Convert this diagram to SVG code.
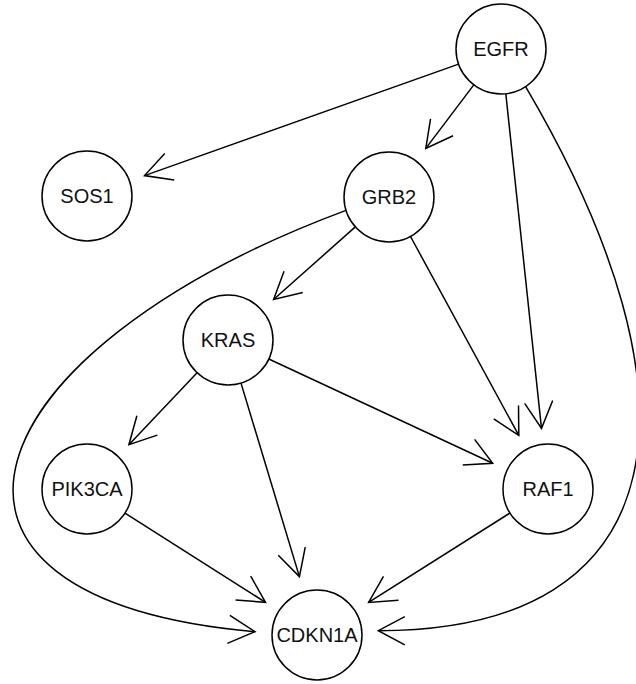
<svg xmlns="http://www.w3.org/2000/svg" width="636" height="684" viewBox="0 0 636 684">
<style>
.node circle{fill:#fff;stroke:#000;stroke-width:1.5}
.node text{font-family:"Liberation Sans",Arial,sans-serif;font-size:20px;fill:#111;text-anchor:middle}
.edge{fill:none;stroke:#000;stroke-width:1.5;marker-end:url(#arr)}
</style>
<defs>
<marker id="arr" markerUnits="userSpaceOnUse" markerWidth="40" markerHeight="40" refX="0" refY="0" orient="auto" overflow="visible">
<path d="M-26.5,-14.1 L0,0 L-26.5,14.1" fill="none" stroke="#000" stroke-width="1.5"/>
</marker>
</defs>
<rect width="636" height="684" fill="#fff"/>
<g id="connectors">
<path class="edge" d="M458.6,64.1 L144.5,175.6"/>
<path class="edge" d="M473.8,84.9 L425.8,148.4"/>
<path class="edge" d="M505.8,93.7 L541.5,428.3"/>
<path class="edge" d="M525.6,86.7 C709.2,398.7 678.3,630.7 378.3,630.7"/>
<path class="edge" d="M355.3,226.9 L273.6,299.5"/>
<path class="edge" d="M410.5,236.5 L518.8,435.4"/>
<path class="edge" d="M346,210.4 C-31,350.7 -123.5,597.9 255,631.7"/>
<path class="edge" d="M197.1,372.7 L128.9,444.7"/>
<path class="edge" d="M268.8,359 L492.7,463.3"/>
<path class="edge" d="M241,383.1 L299.4,576.6"/>
<path class="edge" d="M125,513.1 L265.5,602.3"/>
<path class="edge" d="M510,513 L368.6,602.4"/>
</g>
<g id="EGFR" class="node"><circle cx="501" cy="49" r="45"/><text x="501" y="56">EGFR</text></g>
<g id="SOS1" class="node"><circle cx="87" cy="196" r="45"/><text x="87" y="203">SOS1</text></g>
<g id="GRB2" class="node"><circle cx="389" cy="197" r="45"/><text x="389" y="204">GRB2</text></g>
<g id="KRAS" class="node"><circle cx="228" cy="340" r="45"/><text x="228" y="347">KRAS</text></g>
<g id="PIK3CA" class="node"><circle cx="87" cy="489" r="45"/><text x="87" y="496">PIK3CA</text></g>
<g id="RAF1" class="node"><circle cx="548" cy="489" r="45"/><text x="548" y="496">RAF1</text></g>
<g id="CDKN1A" class="node"><circle cx="317" cy="635" r="45"/><text x="317" y="642">CDKN1A</text></g>
</svg>
